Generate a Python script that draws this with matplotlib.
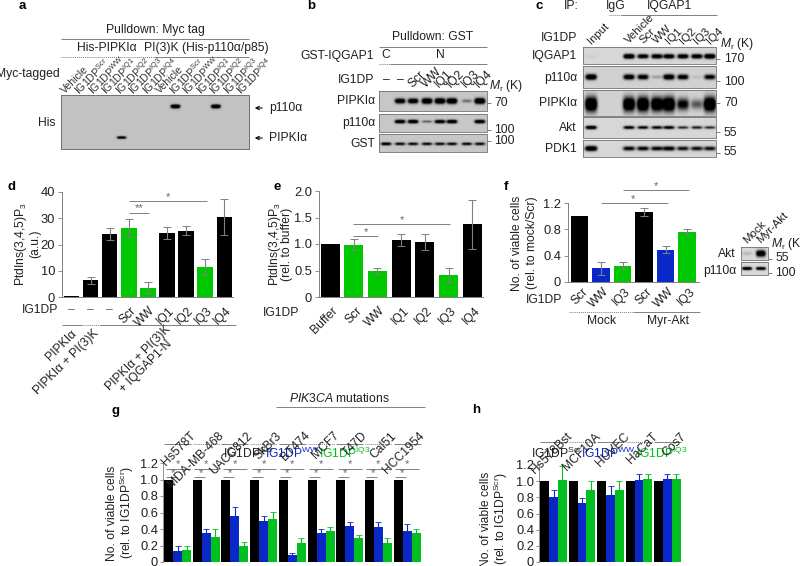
import numpy as np
import matplotlib
matplotlib.use('Agg')
import matplotlib.pyplot as plt

plt.rcParams['font.family'] = ['Liberation Sans', 'DejaVu Sans']
plt.rcParams['mathtext.fontset'] = 'custom'
plt.rcParams['mathtext.rm'] = 'Liberation Sans'
plt.rcParams['mathtext.it'] = 'Liberation Sans:italic'
plt.rcParams['mathtext.bf'] = 'Liberation Sans:bold'

BLACK = '#000000'; GREEN = '#00c800'; BLUE = '#0a28c8'; GREEN2 = '#00c020'
TXT = '#231f20'; GRAY = '#808080'
FS = 8.7

# ---------- data ----------
d_vals = [0.2, 6.3, 24.0, 26.2, 3.6, 24.3, 25.3, 11.3, 30.6]
d_errs = [0, 1.4, 2.2, 3.4, 2.2, 2.2, 1.6, 3.0, 6.8]
d_cols = [BLACK, BLACK, BLACK, GREEN, GREEN, BLACK, BLACK, GREEN, BLACK]
d_labels = ['Scr', 'WW', 'IQ1', 'IQ2', 'IQ3', 'IQ4']

e_vals = [1.0, 0.99, 0.49, 1.07, 1.03, 0.42, 1.37]
e_errs = [0, 0.11, 0.05, 0.11, 0.15, 0.13, 0.46]
e_cols = [BLACK, GREEN, GREEN, BLACK, BLACK, GREEN, BLACK]
e_labels = ['Buffer', 'Scr', 'WW', 'IQ1', 'IQ2', 'IQ3', 'IQ4']

f_vals = [1.0, 0.21, 0.25, 1.07, 0.49, 0.76]
f_errs = [0, 0.10, 0.05, 0.06, 0.05, 0.05]
f_cols = [BLACK, BLUE, GREEN, BLACK, BLUE, GREEN]
f_labels = ['Scr', 'WW', 'IQ3', 'Scr', 'WW', 'IQ3']

g_cells = ['Hs578T', 'MDA-MB-468', 'UACC812', 'SkBr3', 'BT474', 'MCF7', 'T47D', 'Cal51', 'HCC1954']
g_scr = [1, 1, 1, 1, 1, 1, 1, 1, 1]
g_ww = [0.13, 0.35, 0.56, 0.50, 0.08, 0.35, 0.44, 0.43, 0.38]
g_iq3 = [0.14, 0.30, 0.19, 0.52, 0.23, 0.38, 0.29, 0.23, 0.35]
g_ww_err = [0.06, 0.05, 0.11, 0.06, 0.03, 0.05, 0.05, 0.06, 0.08]
g_iq3_err = [0.05, 0.10, 0.05, 0.09, 0.06, 0.05, 0.04, 0.06, 0.05]

h_cells = ['Hs578Bst', 'MCF10A', 'HUVEC', 'HaCaT', 'Cos7']
h_scr = [1, 1, 1, 1, 1]
h_ww = [0.81, 0.73, 0.83, 1.01, 1.03]
h_iq3 = [1.02, 0.89, 0.89, 1.03, 1.03]
h_ww_err = [0.08, 0.06, 0.11, 0.08, 0.06]
h_iq3_err = [0.17, 0.11, 0.11, 0.06, 0.06]

a_lanes = ['Vehicle', 'Scr', 'WW', 'IQ1', 'IQ2', 'IQ3', 'IQ4'] * 2
a_p110 = [0, 0, 0, 0, 0, 0, 0, 0, 1, 0, 0, 1, 0, 0]
a_pipk = [0, 0, 0, 0, 0.75, 0, 0, 0, 0, 0, 0, 0, 0, 0]

b_lanes = ['Scr', 'WW', 'IQ1', 'IQ2', 'IQ3', 'IQ4']
b_pipk = [0, .8, .8, .95, .95, .95, .25, 1.0]
b_p110 = [0, .85, .85, .3, .8, .85, 0, .85]
b_gst = [.7, .6, .6, .6, .6, .6, .6, .6]

c_lanes = ['Input', 'Vehicle', 'Scr', 'WW', 'IQ1', 'IQ2', 'IQ3', 'IQ4']
c_iqgap = [.03, .95, .8, .85, .85, .85, .85, .95]
c_p110 = [.9, .8, .75, .15, .85, .75, .06, .7]
c_pipk = [1.0, .95, 1.0, .95, 1.0, .65, .35, 1.0]
c_akt = [.85, .7, .65, .65, .7, .5, .55, .5]
c_pdk = [.9, .65, .65, .65, .7, .6, .6, .6]

f_akt = [.1, .9]
f_p110 = [.95, .9]

# ---------- canvas ----------
fig = plt.figure(figsize=(8, 5.66), dpi=100, facecolor='white')
ov = fig.add_axes([0, 0, 1, 1], zorder=5)
ov.patch.set_alpha(0)
ov.axis('off')


def T(x, y, s, ha='center', va='center', fs=FS, color=TXT, **kw):
    ov.text(x, y, s, ha=ha, va=va, fontsize=fs, color=color, **kw)


def RT(x, y, s, ha='left', fs=FS, rot=45, color=TXT, **kw):
    ov.text(x, y, s, ha=ha, va='center', fontsize=fs, color=color, rotation=rot,
            rotation_mode='anchor', **kw)


def L(x0, x1, y, dotted=False, color=GRAY, lw=0.7):
    ov.plot([x0, x1], [y, y], color=color, lw=lw, ls=(0, (1, 1)) if dotted else '-',
            solid_capstyle='butt')


def blot(x0, y0, x1, y1, centers, vals, wband, hband, bg=0.80, yfrac=0.5):
    W = int(x1 - x0) * 3; H = int(y1 - y0) * 3
    xs = np.linspace(x0, x1, W); ys = np.linspace(y0, y1, H)
    X, Y = np.meshgrid(xs, ys)
    img = np.full(X.shape, bg, float)
    yc = y0 + (y1 - y0) * yfrac
    for c, v in zip(centers, vals):
        if v <= 0:
            continue
        core = np.exp(-(((X - c) / wband) ** 4 + ((Y - yc) / (hband * (0.6 + 0.6 * v))) ** 2))
        img -= 1.4 * v * core
    img = np.clip(img, 0, 1)
    ov.imshow(img, extent=(x0, x1, y1, y0), cmap='gray', vmin=0, vmax=1, aspect='auto',
              interpolation='bilinear', zorder=1)
    ov.plot([x0, x1, x1, x0, x0], [y0, y0, y1, y1, y0], color='#707070', lw=0.6, zorder=2)


def bars(box, ymax, ticks, ticklabels, c0, step, width, vals, errs, cols, ecol=None):
    x0, ytop, x1, ybot = box
    ax = fig.add_axes([x0 / 800, 1 - ybot / 566, (x1 - x0) / 800, (ybot - ytop) / 566])
    ax.patch.set_alpha(0)
    idx = np.arange(len(vals))
    ax.bar(idx, vals, width=width / step, color=cols, linewidth=0)
    for i, v, e, c in zip(idx, vals, errs, cols):
        if e > 0:
            ax.errorbar(i, v, yerr=e, color=ecol or GRAY, lw=0.8, capsize=2.6, capthick=0.7)
    ax.set_xlim((x0 - c0) / step, (x1 - c0) / step)
    ax.set_ylim(0, ymax)
    ax.set_yticks(ticks)
    ax.set_yticklabels(ticklabels, fontsize=FS + 0.6, color=TXT)
    ax.set_xticks([])
    ax.tick_params(axis='y', color=GRAY, width=0.6, length=3, pad=2)
    for s in ['top', 'right']:
        ax.spines[s].set_visible(False)
    for s in ['left', 'bottom']:
        ax.spines[s].set_color(GRAY)
        ax.spines[s].set_linewidth(0.7)
    return ax


def grouped(box, ymax, c0, step, bw, a, b, c, berr, cerr, green):
    x0, ytop, x1, ybot = box
    ax = fig.add_axes([x0 / 800, 1 - ybot / 566, (x1 - x0) / 800, (ybot - ytop) / 566])
    ax.patch.set_alpha(0)
    idx = np.arange(len(a))
    w = bw / step
    ax.bar(idx - w, a, width=w, color=BLACK, linewidth=0)
    ax.bar(idx, b, width=w, color=BLUE, linewidth=0)
    ax.bar(idx + w, c, width=w, color=green, linewidth=0)
    ax.errorbar(idx, b, yerr=[np.zeros(len(b)), berr], ls='none', ecolor=BLUE, elinewidth=0.8, capsize=2, capthick=0.6)
    ax.errorbar(idx + w, c, yerr=[np.zeros(len(c)), cerr], ls='none', ecolor=green, elinewidth=0.8, capsize=2, capthick=0.6)
    ax.set_xlim((x0 - c0) / step, (x1 - c0) / step)
    ax.set_ylim(0, ymax)
    ax.set_yticks([0, .2, .4, .6, .8, 1.0, 1.2])
    ax.set_yticklabels(['0', '0.2', '0.4', '0.6', '0.8', '1.0', '1.2'], fontsize=FS + 0.6, color=TXT)
    ax.set_xticks([])
    ax.tick_params(axis='y', color=GRAY, width=0.6, length=2, pad=1.5)
    for s in ['top', 'right', 'bottom']:
        ax.spines[s].set_visible(False)
    ax.spines['left'].set_color(GRAY)
    ax.spines['left'].set_linewidth(0.6)
    return ax


def sup(s):
    return r'IG1DP$^{\mathrm{' + s + '}}$'


# ---------- panel labels ----------
for lab, x, y in [('a', 22, 6), ('b', 311, 6), ('c', 539, 6), ('d', 12, 187), ('e', 533, 187),
                  ('f', 506, 187), ('g', 116, 411), ('h', 476, 410)]:
    if lab == 'e':
        x = 277
    T(x, y, lab, fs=9.5, color='black', fontweight='bold', ha='center')

# ---------- a ----------
T(155, 30, 'Pulldown: Myc tag')
L(61, 249, 38.5)
T(107, 48, 'His-PIPKIα')
T(206, 48, 'PI(3)K (His-p110α/p85)')
L(61, 154, 56.5, dotted=True)
L(154, 249, 56.5)
T(60, 74, 'Myc-tagged', ha='right')
for i, n in enumerate(a_lanes):
    s = 'Vehicle' if n == 'Vehicle' else sup(n)
    RT(63 + i * 13.5, 92, s, fs=7.6, color='#333333')
a_x = [67.5 + i * 13.5 for i in range(14)]
blot(61, 95, 249, 149, [x for x in a_x], a_p110, 4.6, 1.5, bg=0.76, yfrac=0.21)
blot(61, 95, 249, 149, [x for x in a_x], a_pipk, 4.6, 1.2, bg=0.76, yfrac=0.79)
# second blot overwrites only the lower part
ov.images[-1].set_extent((61, 249, 149, 122))
ax_img = ov.images[-1]
arr = ax_img.get_array()
ax_img.set_data(arr[arr.shape[0] // 2:, :])
T(47, 123, 'His')
ov.annotate('', xy=(252, 108), xytext=(265, 108), arrowprops=dict(arrowstyle='->', lw=0.8, color='black', mutation_scale=6))
ov.annotate('', xy=(252, 138), xytext=(265, 138), arrowprops=dict(arrowstyle='->', lw=0.8, color='black', mutation_scale=6))
T(269, 108, 'p110α', ha='left')
T(269, 138, 'PIPKIα', ha='left')

# ---------- b ----------
T(433, 37, 'Pulldown: GST')
L(379, 487, 47)
T(374, 56, 'GST-IQGAP1', ha='right')
T(386, 55, 'C')
T(440, 55, 'N')
L(379, 390, 63.5, dotted=True)
L(390, 487, 63.5)
T(374, 80, 'IG1DP', ha='right')
b_x = [386, 400, 413, 427, 440, 452, 467, 480]
T(386, 80, '–'); T(400, 80, '–')
for i, n in enumerate(b_lanes):
    RT(b_x[i + 2] - 3, 86, n, color=TXT)
ov.text(489, 86, r'$\mathit{M}_{\mathrm{r}}$ (K)', fontsize=FS, color=TXT, ha='left', va='center')
blot(379, 91, 487, 111, b_x, b_pipk, 5.2, 2.3, bg=0.78)
blot(379, 114, 487, 132, b_x, b_p110, 5.2, 1.6, bg=0.78, yfrac=0.42)
blot(379, 134, 487, 152, b_x, b_gst, 5.2, 1.5, bg=0.78, yfrac=0.55)
T(375, 101, 'PIPKIα', ha='right')
T(375, 123, 'p110α', ha='right')
T(375, 144, 'GST', ha='right')
for y, s, ln in [(103, '70', 1), (130, '100', 1), (141, '100', 1)]:
    L(487, 491, y)
    T(494, y, s, ha='left')

# ---------- c ----------
T(571, 6, 'IP:', ha='center')
T(616, 6, 'IgG')
T(669, 6, 'IQGAP1')
L(609, 621, 15, dotted=True)
L(621, 717, 15)
T(577, 38, 'IG1DP', ha='right')
c_x = [591, 629, 643, 657, 669, 683, 697, 710]
for x, n in zip(c_x, c_lanes):
    RT(x - 2, 42, n, color=TXT, fs=8.2)
ov.text(720, 44, r'$\mathit{M}_{\mathrm{r}}$ (K)', fontsize=FS, color=TXT, ha='left', va='center')
blot(583, 47, 716, 64, c_x, c_iqgap, 5.5, 2.0, bg=0.84, yfrac=0.55)
blot(583, 66, 716, 88, c_x, c_p110, 5.5, 2.4, bg=0.82, yfrac=0.5)
blot(583, 90, 716, 116, c_x, c_pipk, 6.0, 6.0, bg=0.82, yfrac=0.55)
blot(583, 117, 716, 138, c_x, c_akt, 5.5, 1.6, bg=0.84, yfrac=0.5)
blot(583, 140, 716, 157, c_x, c_pdk, 6.0, 2.2, bg=0.84, yfrac=0.5)
for y, s in [(56, 'IQGAP1'), (78, 'p110α'), (103, 'PIPKIα'), (128, 'Akt'), (149, 'PDK1')]:
    T(577, y, s, ha='right')
for yt, yl, s in [(59, 59, '170'), (81, 82, '100'), (103, 103, '70'), (132, 133, '55'), (153, 152, '55')]:
    L(716, 720, yt)
    T(724, yl, s, ha='left')

# ---------- d ----------
bars((62, 192, 233, 297), 40, [0, 10, 20, 30, 40], ['0', '10', '20', '30', '40'], 71.5, 19.1, 15.5,
     d_vals, d_errs, d_cols)
RT(21, 244, 'PtdIns(3,4,5)P$_3$', ha='center', rot=90, fs=FS)
RT(35, 244, '(a.u.)', ha='center', rot=90, fs=FS)
T(58, 310, 'IG1DP', ha='right')
for x in [71.5, 90.6, 109.7]:
    T(x, 310, '–', color='#666666')
for i, n in enumerate(d_labels):
    RT(134 + i * 19.1, 309, n, ha='right')
L(62, 82, 325)
L(82, 100, 325, dotted=True)
L(100, 236, 325)
RT(75, 332, 'PIPKIα', ha='right')
RT(97, 332, 'PIPKIα + PI(3)K', ha='right')
ov.text(173, 332, 'PIPKIα + PI(3)K\n+ IQGAP1-N', ha='right', va='center', fontsize=FS, color=TXT,
        rotation=45, rotation_mode='anchor', linespacing=0.95, multialignment='center')
L(129, 207, 201)
T(168, 197, '*', fs=8, color='#666666')
L(129, 149, 212.5)
T(139, 208, '**', fs=8, color='#666666')

# ---------- e ----------
bars((319, 191, 483, 297), 2.0, [0, .5, 1, 1.5, 2], ['0', '0.5', '1.0', '1.5', '2.0'], 330, 23.7, 19,
     e_vals, e_errs, e_cols)
RT(275, 244, 'PtdIns(3,4,5)P$_3$', ha='center', rot=90, fs=FS)
RT(287, 244, '(rel. to buffer)', ha='center', rot=90, fs=FS)
T(299, 313, 'IG1DP', ha='right')
for i, n in enumerate(e_labels):
    RT(336 + i * 23.7, 309, n, ha='right')
L(353, 450, 224)
T(402, 220, '*', fs=8, color='#666666')
L(353, 378, 236)
T(366, 232, '*', fs=8, color='#666666')

# ---------- f ----------
bars((568, 203, 699, 282), 1.2, [0, .4, .8, 1.2], ['0', '0.4', '0.8', '1.2'], 579.7, 21.45, 17.5,
     f_vals, f_errs, f_cols)
RT(517, 243, 'No. of viable cells', ha='center', rot=90, fs=FS)
RT(532, 243, '(rel. to mock/Scr)', ha='center', rot=90, fs=FS)
T(562, 300, 'IG1DP', ha='right')
for i, n in enumerate(f_labels):
    RT(586 + i * 21.45, 290, n, ha='right')
L(569, 633, 311.5, dotted=True)
L(633, 700, 311.5)
T(602, 321, 'Mock')
T(668, 321, 'Myr-Akt')
L(601, 668, 202.5)
T(633, 199, '*', fs=8, color='#666666')
L(623, 689, 189.5)
T(656, 186, '*', fs=8, color='#666666')
fx = [750, 762]
RT(745, 242, 'Mock', fs=8.2)
RT(759, 241, 'Myr-Akt', fs=8.2)
ov.text(771, 244, r'$\mathit{M}_{\mathrm{r}}$ (K)', fontsize=FS, color=TXT, ha='left', va='center')
blot(741, 247, 768, 260, [747, 761], f_akt, 4.8, 2.8, bg=0.85)
blot(741, 262, 768, 275, [747, 761], f_p110, 4.8, 1.3, bg=0.85)
T(736, 254, 'Akt', ha='right')
T(736, 271, 'p110α', ha='right')
L(768, 772, 259); T(775, 258, '55', ha='left')
L(768, 772, 273); T(775, 273, '100', ha='left')

# ---------- g ----------
G_X = 177.5
grouped((163, 463, 421, 562), 1.2, 177.5, 28.7, 9.0, g_scr, g_ww, g_iq3, g_ww_err, g_iq3_err, GREEN2)
RT(112, 513, 'No. of viable cells', ha='center', rot=90, fs=FS)
RT(127, 513, r'(rel. to IG1DP$^{\mathrm{Scr}}$)', ha='center', rot=90, fs=FS)
T(249, 453, sup('Scr'))
T(292, 453, sup('WW'), color=BLUE)
T(345, 453, sup('IQ3'), color=GREEN2)
ov.text(339, 398, r'$\mathit{PIK3CA}$ mutations', ha='center', va='center', fontsize=FS, color=TXT)
L(276, 425, 407)
for i, n in enumerate(g_cells):
    gx = 177.5 + i * 28.7
    RT(gx + 5, 440, n, ha='right' if False else 'left', fs=FS) if False else None
    ov.text(gx + 16, 434, n, ha='right', va='center', rotation=45, rotation_mode='anchor', fontsize=FS, color=TXT)
    L(gx - 13.5, gx + 13.5, 443.5, dotted=False) if i % 2 == 0 else L(gx - 13.5, gx + 13.5, 443.5, dotted=True)
    L(gx - 12, gx + 12, 468.5)
    L(gx - 12, gx - 1, 477)
    T(gx, 464, '*', fs=8, color='#666666')
    T(gx - 5, 473, '*', fs=8, color='#666666')

# ---------- h ----------
grouped((539, 465, 682, 562), 1.2, 553.5, 28.5, 8.8, h_scr, h_ww, h_iq3, h_ww_err, h_iq3_err, GREEN2)
RT(486, 519, 'No. of viable cells', ha='center', rot=90, fs=FS)
RT(501, 519, r'(rel. to IG1DP$^{\mathrm{Scr}}$)', ha='center', rot=90, fs=FS)
T(557, 453, sup('Scr'))
T(608, 453, sup('WW'), color=BLUE)
T(662, 453, sup('IQ3'), color=GREEN2)
for i, n in enumerate(h_cells):
    gx = 553.5 + i * 28.5
    ov.text(gx + 17, 435, n, ha='right', va='center', rotation=45, rotation_mode='anchor', fontsize=FS, color=TXT)
    L(gx - 13.5, gx + 13.5, 442, dotted=i % 2 == 1)

ov.set_xlim(0, 800)
ov.set_ylim(566, 0)
fig.savefig('out.png', dpi=100, facecolor='white')
